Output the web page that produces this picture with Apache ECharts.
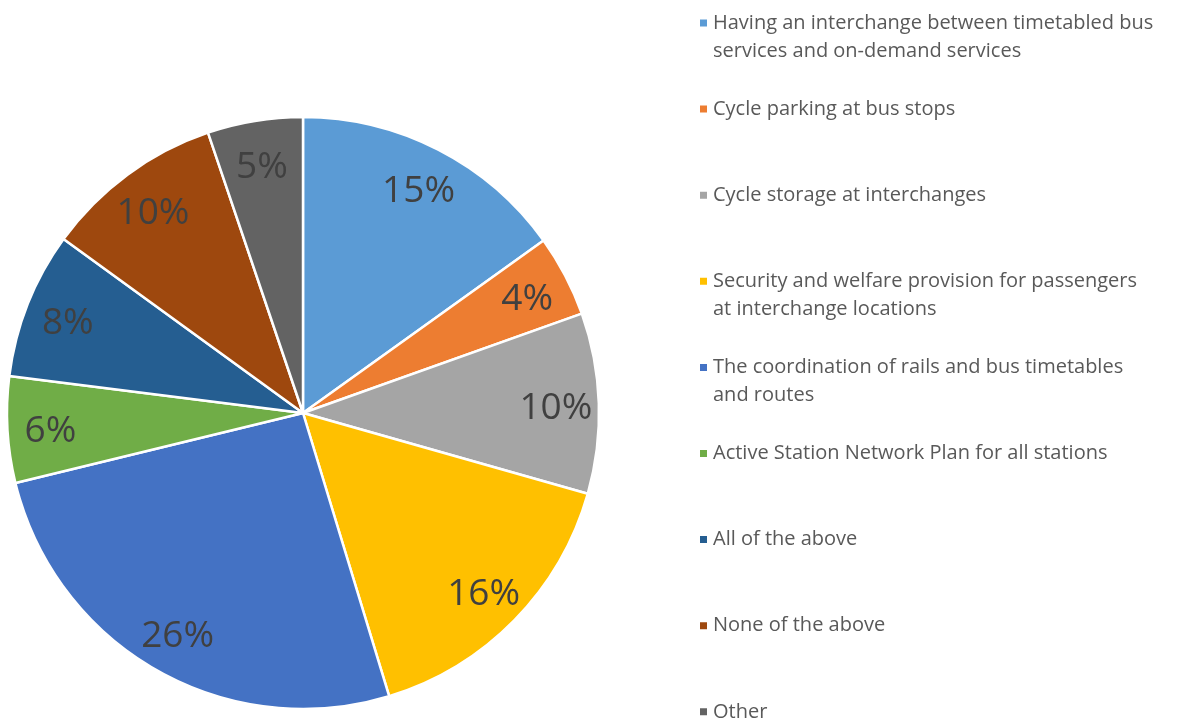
<!DOCTYPE html>
<html>
<head>
<meta charset="utf-8">
<title>Pie</title>
<script src="https://cdn.jsdelivr.net/npm/echarts@6/dist/echarts.min.js"></script>
<style>
  html, body { margin: 0; padding: 0; background: #fff; }
  #main { width: 1193px; height: 722px; }
</style>
</head>
<body>
<div id="main"></div>
<script type="text/javascript">
// categories, clockwise from 12 o'clock (line breaks as in the legend)
var categories = [
    'Having an interchange between timetabled bus\nservices and on-demand services',
    'Cycle parking at bus stops',
    'Cycle storage at interchanges',
    'Security and welfare provision for passengers\nat interchange locations',
    'The coordination of rails and bus timetables\nand routes',
    'Active Station Network Plan for all stations',
    'All of the above',
    'None of the above',
    'Other'
];
// share of responses (%)
var shares = [15.1, 4.45, 9.85, 15.9, 25.9, 5.8, 8.0, 9.8, 5.2];
var colors = ['#5B9BD5', '#ED7D31', '#A5A5A5', '#FFC000', '#4472C4', '#70AD47', '#255E91', '#9E480E', '#636363'];

var myChart = echarts.init(document.getElementById('main'));

var pieData = categories.map(function (name, i) {
    return { name: name, value: shares[i], itemStyle: { color: colors[i] } };
});

// one legend per entry; two-line entries get an empty line on top so the
// marker lines up with the first line of text
var legends = categories.map(function (name, i) {
    var multi = name.indexOf('\n') >= 0;
    var c = 23 + i * 86.1;
    return {
        data: [name],
        orient: 'vertical',
        left: 698,
        top: multi ? c - 42 : c - 14,
        padding: 0,
        itemWidth: 9,
        itemHeight: 9,
        selectedMode: false,
        icon: 'rect',
        formatter: function (n) { return multi ? ' \n' + n : n; },
        textStyle: {
            fontFamily: 'Open Sans',
            fontSize: 20,
            color: '#595959',
            lineHeight: 28
        }
    };
});

var option = {
    backgroundColor: '#fff',
    animation: false,
    legend: legends,
    series: [
        {
            type: 'pie',
            center: [303, 413],
            radius: [0, 296],
            startAngle: 90,
            percentPrecision: 0,
            itemStyle: { borderColor: '#fff', borderWidth: 2.5 },
            label: { show: false },
            labelLine: { show: false },
            emphasis: { disabled: true },
            data: pieData
        },
        {
            // transparent ring, only used to place the percentages
            type: 'pie',
            center: [303, 417],
            radius: [204, 296],
            startAngle: 90,
            percentPrecision: 0,
            silent: true,
            itemStyle: { color: 'rgba(0,0,0,0)', borderWidth: 0 },
            label: {
                show: true,
                position: 'inside',
                formatter: '{d}%',
                fontFamily: 'Open Sans',
                fontSize: 37,
                color: '#404040'
            },
            labelLine: { show: false },
            emphasis: { disabled: true },
            data: pieData.map(function (d) { return { name: d.name, value: d.value }; })
        }
    ]
};
myChart.setOption(option);
</script>
</body>
</html>
